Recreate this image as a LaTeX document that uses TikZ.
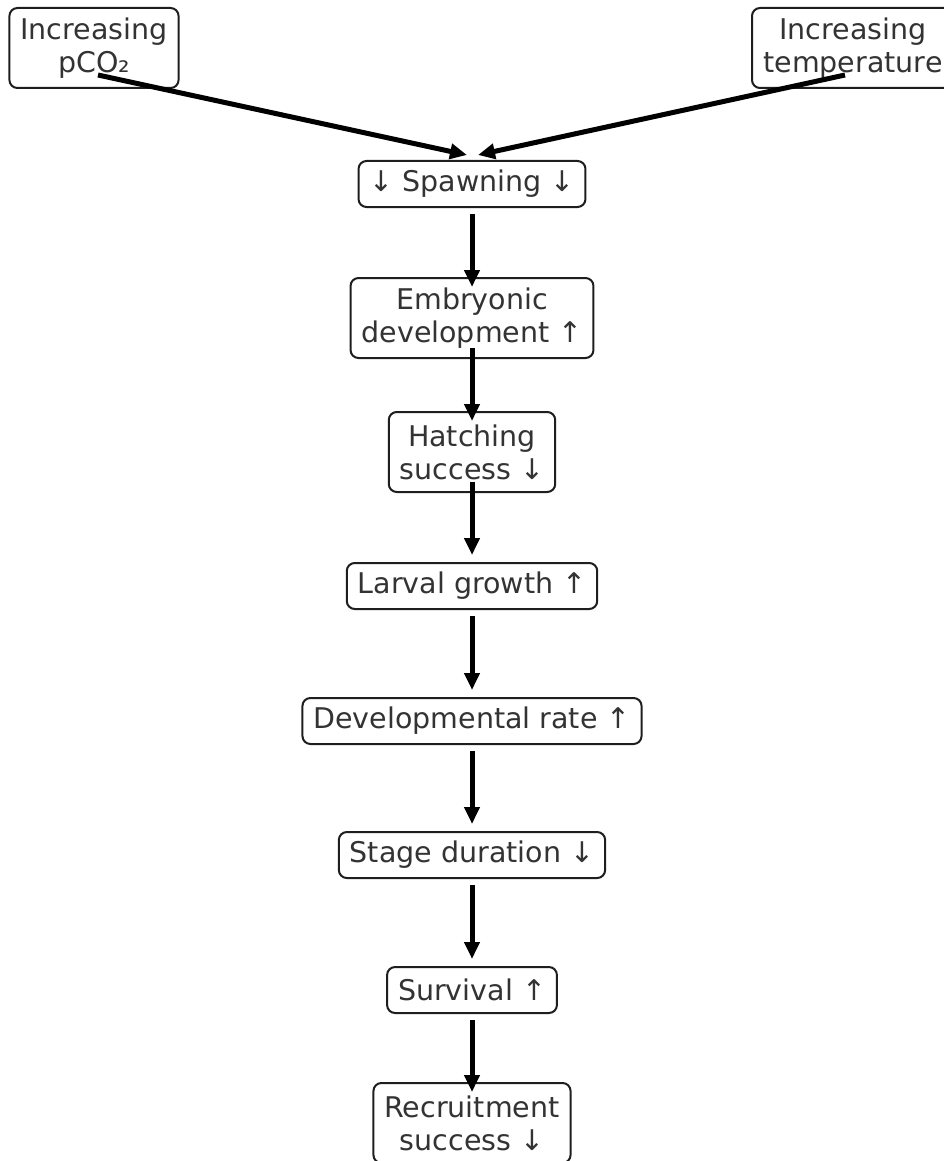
\documentclass[tikz,border=0pt]{standalone}
\usepackage{fontspec}
\setmainfont{DejaVu Sans}
\usetikzlibrary{arrows.meta}

\definecolor{txtgray}{RGB}{51,51,51}
\definecolor{edgegray}{RGB}{30,30,30}

\tikzset{
	stagebox/.style={draw=edgegray, line width=2pt, rounded corners=8pt, fill=white,
		text=txtgray, align=center, inner xsep=11pt, inner ysep=4pt,
		minimum height=46pt, font=\fontsize{28.5}{33}\selectfont},
	twoline/.style={stagebox, minimum height=80pt},
	flowarrow/.style={line width=5pt, -{Triangle[length=17pt,width=15pt]}},
}

\begin{document}
\begin{tikzpicture}[x=1pt,y=1pt,yscale=-1,xscale=1]
		\useasboundingbox (0,0) rectangle (943,1161);
		
		% Drivers
		\node [twoline] (pco) at (94,48) {Increasing\\pCO₂};
		\node [twoline, text width=180pt] (temp) at (853,48) {Increasing\\temperature};
		
		% Chain of stages
		\node [stagebox] (spawn) at (472,184) {↓ Spawning ↓};
		\node [twoline] (embryo) at (472,318) {Embryonic\\development ↑};
		\node [twoline] (hatch) at (472,452) {Hatching\\success ↓};
		\node [stagebox] (larval) at (472,586) {Larval growth ↑};
		\node [stagebox] (devrate) at (472,721) {Developmental rate ↑};
		\node [stagebox] (stage) at (472,855) {Stage duration ↓};
		\node [stagebox] (surv) at (472,990) {Survival ↑};
		\node [twoline] (recruit) at (472,1123) {Recruitment\\success ↓};
		
		% Arrows from the drivers
		\draw [flowarrow] ([shift={(4,27)}]pco.center) -- ([shift={(-5,-29)}]spawn.center);
		\draw [flowarrow] ([shift={(-8,27)}]temp.center) -- ([shift={(6,-29)}]spawn.center);
		
		% Arrows down the chain
		\foreach \a/\b in {spawn/embryo, embryo/hatch, hatch/larval, larval/devrate,
			devrate/stage, stage/surv, surv/recruit}
			\draw [flowarrow, shorten <=30pt, shorten >=31pt] (\a.center) -- (\b.center);
		
	\end{tikzpicture}
\end{document}
